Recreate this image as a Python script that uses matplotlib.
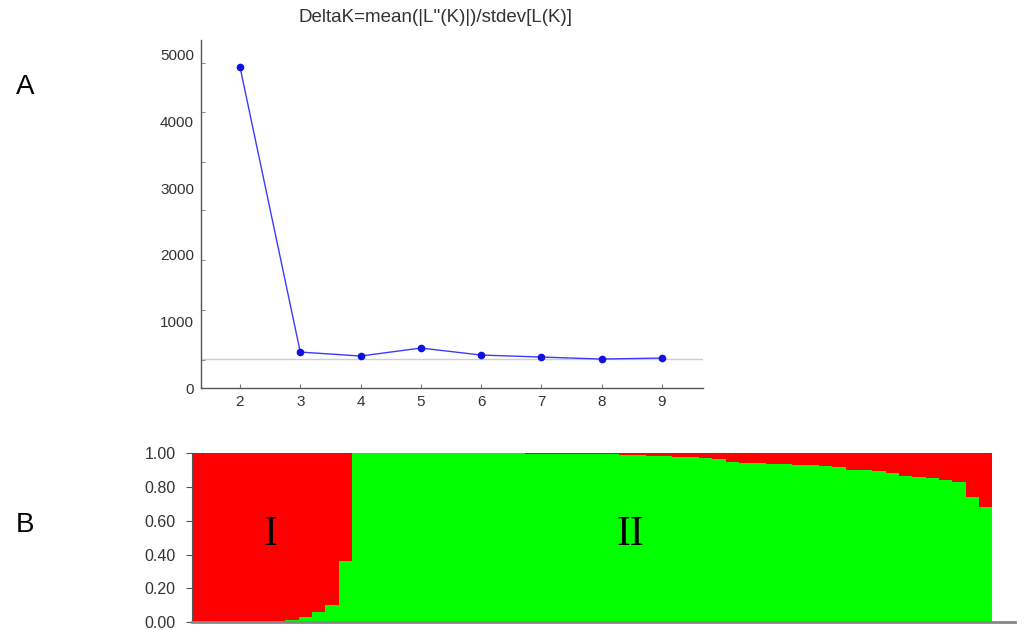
import numpy as np
import matplotlib
matplotlib.use("Agg")
import matplotlib.pyplot as plt

plt.rcParams['font.family'] = ['Liberation Sans', 'DejaVu Sans']

# ---- Panel A data ----
K = [2, 3, 4, 5, 6, 7, 8, 9]
delta_k = [4820, 540, 480, 600, 495, 465, 435, 450]
ref_line = 435
ytick_vals = [0, 1000, 2000, 3000, 4000, 5000]
ytick_labels = ['0', '1000', '2000', '3000', '4000', '5000']
minor_ticks = [420, 1171, 1922, 2673, 3393, 4144, 4880]

# ---- Panel B data (membership fraction for cluster "green") ----
green_group1 = [0, 0, 0, 0, 0, 0, 0, 0.01, 0.03, 0.06, 0.10, 0.36]
red_group2 = ([0.0] * 13 + [0.005] * 7 +
              [0.012, 0.014, 0.016, 0.02, 0.022, 0.025, 0.03, 0.032,
               0.055, 0.058, 0.06, 0.062, 0.065, 0.068,
               0.072, 0.078, 0.085, 0.10, 0.10, 0.105,
               0.12, 0.135, 0.14, 0.15, 0.16, 0.17, 0.26, 0.32])
green_vals = green_group1 + [1 - r for r in red_group2]
b_ticks = [0.0, 0.2, 0.4, 0.6, 0.8, 1.0]

fig = plt.figure(figsize=(10.27, 6.30), dpi=100)

# ---------- Panel A ----------
axA = fig.add_axes([0.1957, 0.3841, 0.4888, 0.5524])
axA.axhline(ref_line, color='#cfcfcf', lw=1, zorder=1)
axA.plot(K, delta_k, color='#3b3bff', lw=1, marker='o', markersize=4.5,
         markerfacecolor='#1010e0', markeredgecolor='#1010e0', zorder=3)
axA.set_xlim(1.353, 9.68)
axA.set_ylim(0, 5225)
axA.set_yticks(ytick_vals)
axA.set_yticklabels(ytick_labels)
axA.set_yticks(minor_ticks, minor=True)
axA.set_xticks(K)
axA.tick_params(axis='y', which='major', length=0, pad=5, labelsize=11, labelcolor='#333333')
axA.tick_params(axis='y', which='minor', direction='in', length=3, color='#777777')
axA.tick_params(axis='x', which='major', direction='in', length=3, color='#777777',
                pad=5, labelsize=11, labelcolor='#333333')
for s in ['top', 'right']:
    axA.spines[s].set_visible(False)
for s in ['left', 'bottom']:
    axA.spines[s].set_color('#555555')
    axA.spines[s].set_linewidth(1.0)
axA.set_title("DeltaK=mean(|L''(K)|)/stdev[L(K)]", fontsize=13.5, color='#333333',
              pad=13, x=0.468)

# ---------- Panel B ----------
axB = fig.add_axes([0.187, 0.0125, 0.8013, 0.2683])
n = len(green_vals)
x = np.arange(n)
g = np.array(green_vals)
axB.bar(x, g, width=1.0, align='edge', color='#00ff00', edgecolor='none', linewidth=0)
axB.bar(x, 1 - g, bottom=g, width=1.0, align='edge', color='#ff0000', edgecolor='none', linewidth=0)
axB.set_xlim(0, 61.7)
axB.set_ylim(0, 1.0)
axB.set_yticks(b_ticks)
axB.set_yticklabels([f'{v:.2f}' for v in b_ticks])
axB.set_xticks([])
axB.tick_params(axis='y', direction='out', length=4, color='#555555', pad=8,
                labelsize=11.5, labelcolor='#333333')
for s in ['top', 'right']:
    axB.spines[s].set_visible(False)
axB.spines['bottom'].set_color('#888888')
axB.spines['bottom'].set_linewidth(2)
axB.spines['left'].set_color('#555555')
axB.text(5.85, 0.515, 'I', fontsize=30, family=['Liberation Serif', 'DejaVu Serif'],
         ha='center', va='center', color='black')
axB.text(32.9, 0.515, 'II', fontsize=30, family=['Liberation Serif', 'DejaVu Serif'],
         ha='center', va='center', color='black')

# panel letters
fig.text(0.0243, 0.862, 'A', fontsize=20, ha='center', va='center', color='black')
fig.text(0.0243, 0.1667, 'B', fontsize=20, ha='center', va='center', color='black')

fig.savefig('out.png', dpi=100)
